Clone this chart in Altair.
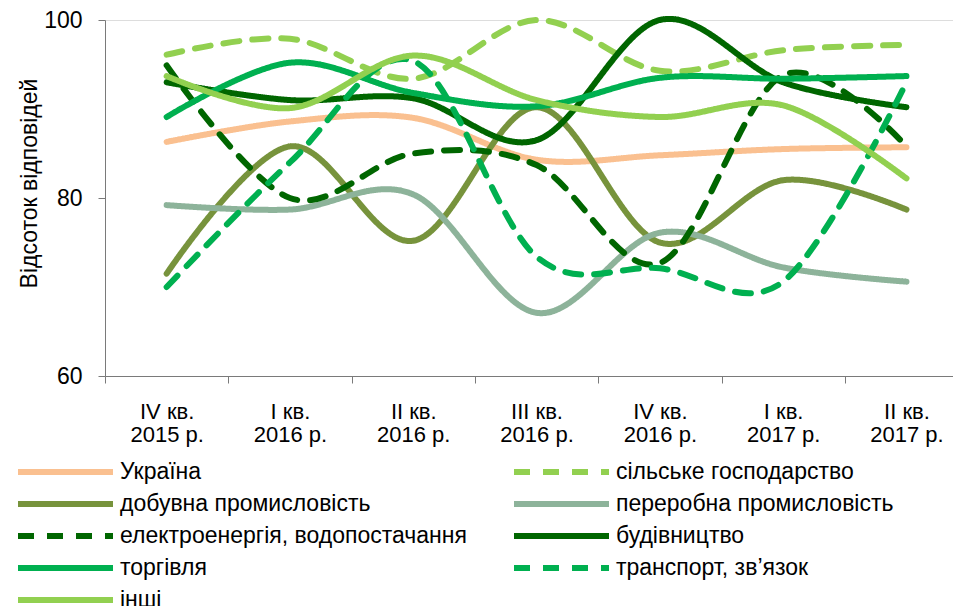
import json
import altair as alt
import pandas as pd

# ---- data -------------------------------------------------------------
quarters = ["IV кв.|2015 р.", "I кв.|2016 р.", "II кв.|2016 р.", "III кв.|2016 р.",
            "IV кв.|2016 р.", "I кв.|2017 р.", "II кв.|2017 р."]

series_names = ["Україна", "сільське господарство", "\u00a0добувна промисловість",
                "переробна промисловість", "електроенергія, водопостачання",
                "будівництво", "торгівля", "транспорт, зв’язок", "інші"]

ukraina      = [86.3, 88.6, 89.0, 84.3, 84.8, 85.5, 85.7]
silske       = [96.1, 97.9, 93.4, 100.0, 94.3, 96.6, 97.2]
dobuvna      = [71.5, 85.8, 75.2, 90.2, 75.0, 82.0, 78.7]
pererobna    = [79.2, 78.7, 80.4, 67.1, 76.1, 72.2, 70.6]
elektro      = [94.9, 80.0, 85.0, 83.7, 72.7, 93.8, 85.8]
budivnytstvo = [93.0, 91.0, 91.2, 86.5, 100.0, 93.0, 90.2]
torhivlia    = [89.1, 95.2, 91.8, 90.3, 93.5, 93.4, 93.7]
transport    = [70.0, 84.0, 95.4, 73.4, 72.1, 70.6, 93.0]
inshi        = [93.7, 90.1, 96.0, 91.0, 89.1, 90.4, 82.2]

values = [ukraina, silske, dobuvna, pererobna, elektro, budivnytstvo,
          torhivlia, transport, inshi]

# legend is filled column by column: left column first, then right column
legend_order = [0, 2, 4, 6, 8, 1, 3, 5, 7]

# ---- styles -----------------------------------------------------------
colors = ["#FAC090", "#92D050", "#77933C", "#8DB39A", "#006600",
          "#006600", "#00B050", "#00B050", "#92D050"]
solid = [1, 0]
dash = [16, 13]
dashes = [solid, dash, solid, solid, dash, solid, solid, dash, solid]

rows = []
for name, vals in zip(series_names, values):
    for i, v in enumerate(vals):
        rows.append({"idx": i, "series": name, "value": v})
df = pd.DataFrame(rows)

dom = [series_names[k] for k in legend_order]
col_range = [colors[k] for k in legend_order]
dash_range = [dashes[k] for k in legend_order]

FONT = "Liberation Sans"
PLOT_W = 848
PLOT_H = 356
BAND = 123.3
x_max = PLOT_W / BAND - 0.5

label_expr = "split(" + json.dumps(quarters, ensure_ascii=False) + "[datum.value], '|')"

legend = alt.Legend(
    title=None, orient="none", legendX=-90, legendY=441, columns=2,
    symbolType="stroke", symbolSize=95 * 95, symbolStrokeWidth=6,
    labelFontSize=23, labelFont=FONT, labelColor="black", labelOffset=4,
    clipHeight=22, rowPadding=9, columnPadding=44, padding=0, labelLimit=0,
)

chart = alt.Chart(df).mark_line(
    interpolate="cardinal", strokeWidth=6, strokeCap="round", strokeJoin="round"
).encode(
    x=alt.X("idx:Q",
            scale=alt.Scale(domain=[-0.5, x_max], nice=False, zero=False),
            axis=alt.Axis(values=list(range(len(quarters))), tickOffset=-BAND / 2,
                          labelOffset=BAND / 2, labelExpr=label_expr, title=None,
                          grid=False, tickSize=7, domainColor="#7a7a7a",
                          tickColor="#7a7a7a", labelFont=FONT, labelFontSize=22,
                          labelColor="black", labelLineHeight=23, labelPadding=18,
                          labelBaseline="top", labelOverlap=False, labelFlush=False,
                          labelBound=False)),
    y=alt.Y("value:Q",
            scale=alt.Scale(domain=[60, 100], nice=False, zero=False),
            axis=alt.Axis(values=[60, 80, 100], grid=False, tickSize=7,
                          domainColor="#7a7a7a", tickColor="#7a7a7a",
                          labelFont=FONT, labelFontSize=23, labelColor="black",
                          labelPadding=16, title="Відсоток відповідей",
                          titleFont=FONT, titleFontSize=23, titleFontWeight="normal",
                          titleColor="black", titleAngle=270, titleX=-76, titleY=163,
                          titleAlign="center", titleBaseline="middle")),
    color=alt.Color("series:N", sort=dom,
                    scale=alt.Scale(domain=dom, range=col_range), legend=legend),
    strokeDash=alt.StrokeDash("series:N", sort=dom,
                              scale=alt.Scale(domain=dom, range=dash_range),
                              legend=legend),
).properties(
    width=PLOT_W, height=PLOT_H,
    autosize=alt.AutoSizeParams(type="none"),
    padding={"left": 97, "top": 12, "right": 0, "bottom": 230},
).configure_view(stroke=None).configure(background="white")

chart.save("out.html", embed_options={"renderer": "svg", "actions": False})
